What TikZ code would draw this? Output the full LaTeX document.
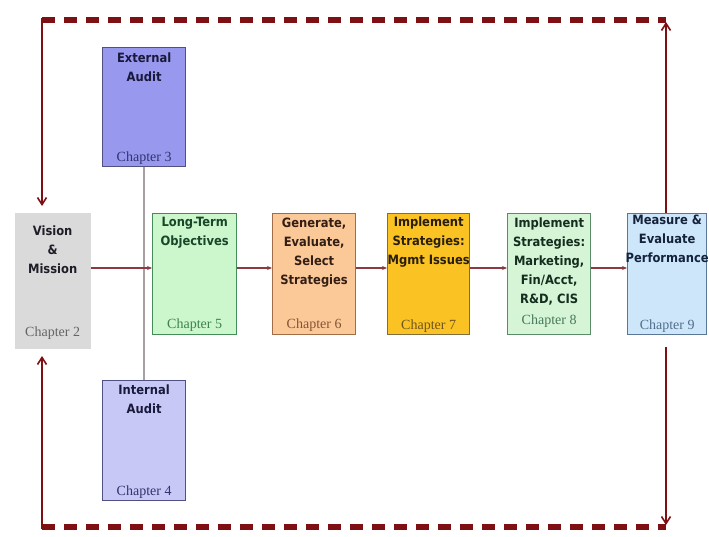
\documentclass[tikz,border=0pt]{standalone}
\usepackage{fontspec}
\setmainfont{Liberation Serif}
\newfontfamily\boxfont{DejaVu Sans Condensed}
\usetikzlibrary{arrows.meta}
\definecolor{loopred}{HTML}{7E0F12}
\definecolor{flowred}{HTML}{8A3A40}
\definecolor{auditgray}{HTML}{A8A0A0}
\tikzset{
  x=1pt, y=-1pt,
  boxnode/.style={draw, line width=1.3pt, inner sep=0pt, anchor=north west},
  titletext/.style={font=\boxfont\bfseries\fontsize{12.8}{19}\selectfont, align=center, inner sep=0pt, anchor=north},
  chaptext/.style={font=\fontsize{14}{16}\selectfont, inner sep=0pt, anchor=south},
  loopline/.style={draw=loopred, line width=2.6pt},
  dashline/.style={draw=loopred, line width=5.5pt, dash pattern=on 13pt off 9pt},
  looparrow/.style={loopline, -{Straight Barb[length=7pt,width=9pt,line width=1.6pt]}},
  flowarrow/.style={draw=flowred, line width=1.1pt, -{Stealth[length=5pt,width=4pt]}},
  auditline/.style={draw=auditgray, line width=1.8pt}
}
\begin{document}
\begin{tikzpicture}
\useasboundingbox[fill=white] (0,0) rectangle (709,537);

% boxes
\node[boxnode, draw=none, fill={rgb,255:red,218;green,218;blue,218}, minimum width=76pt, minimum height=136pt] (vis) at (14,212) {};
\node[boxnode, draw={rgb,255:red,80;green,80;blue,130}, fill={rgb,255:red,152;green,152;blue,238}, minimum width=83pt, minimum height=119pt] (ext) at (102,47) {};
\node[boxnode, draw={rgb,255:red,80;green,80;blue,130}, fill={rgb,255:red,200;green,200;blue,246}, minimum width=83pt, minimum height=120pt] (int) at (102,380) {};
\node[boxnode, draw={rgb,255:red,70;green,140;blue,90}, fill={rgb,255:red,204;green,246;blue,204}, minimum width=84pt, minimum height=121pt] (lto) at (152,213) {};
\node[boxnode, draw={rgb,255:red,160;green,110;blue,70}, fill={rgb,255:red,251;green,200;blue,152}, minimum width=83pt, minimum height=121pt] (gen) at (272,213) {};
\node[boxnode, draw={rgb,255:red,130;green,110;blue,60}, fill={rgb,255:red,250;green,194;blue,34}, minimum width=82pt, minimum height=121pt] (mgm) at (387,213) {};
\node[boxnode, draw={rgb,255:red,90;green,140;blue,105}, fill={rgb,255:red,214;green,245;blue,214}, minimum width=83pt, minimum height=121pt] (mkt) at (507,213) {};
\node[boxnode, draw={rgb,255:red,90;green,120;blue,150}, fill={rgb,255:red,206;green,230;blue,250}, minimum width=79pt, minimum height=121pt] (mea) at (627,213) {};

% titles
\node[titletext, text={rgb,255:red,30;green,30;blue,40}] (visT) at ([yshift=-14pt]vis.north) {Vision\\\&\\Mission};
\node[titletext, text={rgb,255:red,25;green,25;blue,60}] (extT) at ([yshift=-6pt]ext.north) {External\\Audit};
\node[titletext, text={rgb,255:red,25;green,25;blue,60}] (intT) at ([yshift=-5pt]int.north) {Internal\\Audit};
\node[titletext, text={rgb,255:red,25;green,70;blue,40}] (ltoT) at ([yshift=-4pt]lto.north) {Long-Term\\Objectives};
\node[titletext, text={rgb,255:red,50;green,30;blue,20}] (genT) at ([yshift=-5pt]gen.north) {Generate,\\Evaluate,\\Select\\Strategies};
\node[titletext, text={rgb,255:red,40;green,30;blue,10}] (mgmT) at ([yshift=-4pt]mgm.north) {Implement\\Strategies:\\Mgmt Issues};
\node[titletext, text={rgb,255:red,20;green,45;blue,30}] (mktT) at ([yshift=-5pt]mkt.north) {Implement\\Strategies:\\Marketing,\\Fin/Acct,\\R\&D, CIS};
\node[titletext, text={rgb,255:red,20;green,35;blue,60}] (meaT) at ([yshift=-2pt]mea.north) {Measure \&\\Evaluate\\Performance};

% chapters
\node[chaptext, text={rgb,255:red,100;green,100;blue,100}] (visC) at ([yshift=10pt]vis.south) {Chapter 2};
\node[chaptext, text={rgb,255:red,50;green,50;blue,110}] (extC) at ([yshift=3pt]ext.south) {Chapter 3};
\node[chaptext, text={rgb,255:red,50;green,50;blue,110}] (intC) at ([yshift=3pt]int.south) {Chapter 4};
\node[chaptext, text={rgb,255:red,60;green,130;blue,80}] (ltoC) at ([yshift=4pt]lto.south) {Chapter 5};
\node[chaptext, text={rgb,255:red,130;green,85;blue,50}] (genC) at ([yshift=4pt]gen.south) {Chapter 6};
\node[chaptext, text={rgb,255:red,110;green,85;blue,30}] (mgmC) at ([yshift=3pt]mgm.south) {Chapter 7};
\node[chaptext, text={rgb,255:red,70;green,120;blue,90}] (mktC) at ([yshift=8pt]mkt.south) {Chapter 8};
\node[chaptext, text={rgb,255:red,80;green,110;blue,140}] (meaC) at ([yshift=3pt]mea.south) {Chapter 9};

% audit connector
\draw[auditline] (ext.south) -- (int.north);

% flow arrows
\draw[flowarrow] (vis.east |- 0,268) -- (lto.west |- 0,268);
\draw[flowarrow] (lto.east |- 0,268) -- (gen.west |- 0,268);
\draw[flowarrow] (gen.east |- 0,268) -- (mgm.west |- 0,268);
\draw[flowarrow] (mgm.east |- 0,268) -- (mkt.west |- 0,268);
\draw[flowarrow] (mkt.east |- 0,268) -- (mea.west |- 0,268);

% feedback loop
\coordinate (tl) at (42,20);
\coordinate (tr) at (666,20);
\coordinate (bl) at (42,527);
\coordinate (br) at (666,527);
\coordinate (visTop) at (42,206);
\coordinate (visBot) at (42,356);
\coordinate (meaTop) at (666,213);
\coordinate (meaBot) at (666,347);

\draw[dashline] (tl) -- (tr);
\draw[dashline] (bl) -- (br);
\draw[looparrow] ([yshift=1.5pt]tl) -- (visTop);
\draw[looparrow] ([yshift=-1.5pt]bl) -- (visBot);
\draw[looparrow] (meaTop) -- ([yshift=-2pt]tr);
\draw[looparrow] (meaBot) -- ([yshift=2pt]br);
\end{tikzpicture}
\end{document}
